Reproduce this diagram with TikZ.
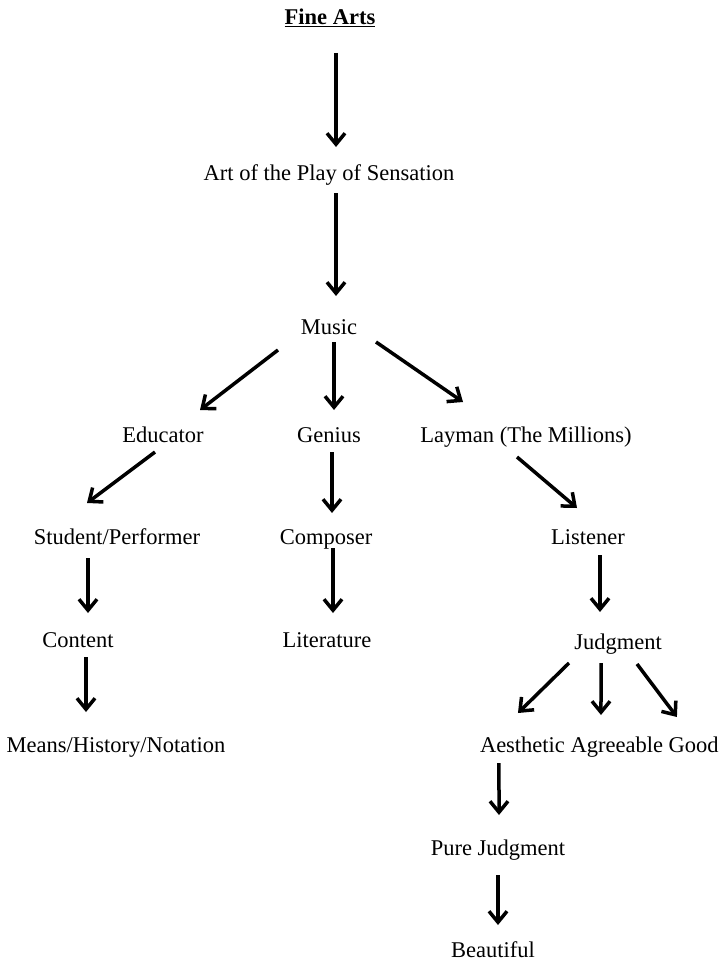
\documentclass[tikz,border=0pt]{standalone}
\usepackage{fontspec}
\setmainfont{Liberation Serif}
\usepackage{tikz}
\usetikzlibrary{arrows.meta, positioning}

\begin{document}
\begin{tikzpicture}[
  x=1pt, y=-1pt,
  lbl/.style={font=\fontsize{22.5}{26}\selectfont, inner sep=0pt, outer sep=0pt, text height=15pt, text depth=0pt},
  >={Straight Barb[length=11pt, width=18pt]},
  line width=3.5pt
]
  \useasboundingbox (0,0) rectangle (722,963);

  % top of the tree
  \node[lbl] (fa) at (330,17) {\underline{\textbf{Fine Arts}}};
  \node[lbl] (art) at (329,173) {Art of the Play of Sensation};
  \node[lbl] (mu) at (329,327) {Music};

  % three branches
  \node[lbl] (edu) at (163,435) {Educator};
  \node[lbl] (gen) at (329,435) {Genius};
  \node[lbl] (lay) at (526,435) {Layman (The Millions)};

  \node[lbl] (stu) at (117,537) {Student/Performer};
  \node[lbl] (com) at (326,537) {Composer};
  \node[lbl] (lis) at (588,537) {Listener};

  \node[lbl] (con) at (78,640) {Content};
  \node[lbl] (lit) at (327,640) {Literature};
  \node[lbl] (jud) at (618,642) {Judgment};

  \node[lbl] (mea) at (116,745) {Means/History/Notation};
  \node[lbl, anchor=west] (aes) at (480,745) {Aesthetic};
  \node[lbl, right=5.6pt of aes] (agr) {Agreeable};
  \node[lbl, right=5.6pt of agr] (good) {Good};

  \node[lbl] (pur) at (498,848) {Pure Judgment};
  \node[lbl] (bea) at (493,950) {Beautiful};

  \draw[->] ([shift={(6,36)}]fa.center) -- ([shift={(7,-26)}]art.center);
  \draw[->] ([shift={(7,20)}]art.center) -- ([shift={(7,-31)}]mu.center);

  \draw[->] ([shift={(-51,23)}]mu.center) -- ([shift={(37,-25)}]edu.center);
  \draw[->] ([shift={(5,15)}]mu.center) -- ([shift={(5,-25)}]gen.center);
  \draw[->] ([shift={(47,15)}]mu.center) -- ([shift={(-63,-33)}]lay.center);

  \draw[->] ([shift={(-8,17)}]edu.center) -- ([shift={(-30,-34)}]stu.center);
  \draw[->] ([shift={(3,17)}]gen.center) -- ([shift={(6,-24)}]com.center);
  \draw[->] ([shift={(-9,22)}]lay.center) -- ([shift={(-11,-29)}]lis.center);

  \draw[->] ([shift={(-29,21)}]stu.center) -- ([shift={(10,-27)}]con.center);
  \draw[->] ([shift={(7,11)}]com.center) -- ([shift={(6,-27)}]lit.center);
  \draw[->] ([shift={(12,18)}]lis.center) -- ([shift={(-18,-30)}]jud.center);

  \draw[->] ([shift={(8,17)}]con.center) -- ([shift={(-30,-33)}]mea.center);
  \draw[->] ([shift={(-49,21)}]jud.center) -- ([shift={(-4.5,-32)}]aes.center);
  \draw[->] ([shift={(-17,21)}]jud.center) -- ([shift={(-15.8,-30)}]agr.center);
  \draw[->] ([shift={(19,22)}]jud.center) -- ([shift={(-16.7,-28)}]good.center);

  \draw[->] ([shift={(-23.5,18)}]aes.center) -- ([shift={(1,-33)}]pur.center);
  \draw[->] ([shift={(0,27)}]pur.center) -- ([shift={(5,-25)}]bea.center);
\end{tikzpicture}
\end{document}
